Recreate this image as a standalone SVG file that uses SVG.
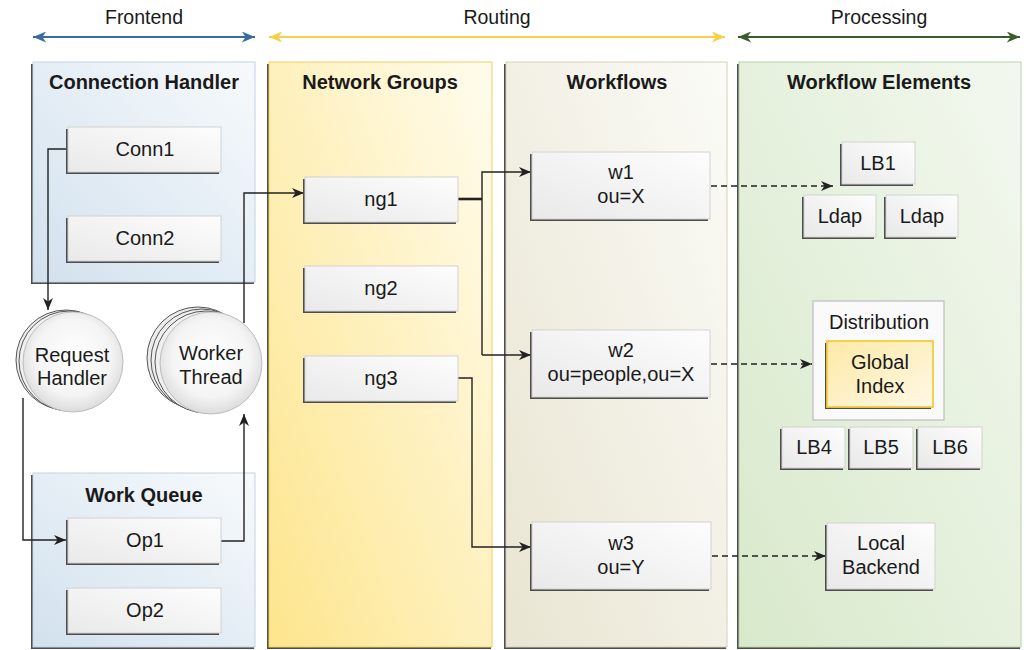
<svg xmlns="http://www.w3.org/2000/svg" width="1026" height="650" viewBox="0 0 1026 650">
<defs>
<linearGradient id="gBlue" x1="0" y1="1" x2="1" y2="0"><stop offset="0" stop-color="#d2e1ee"/><stop offset="1" stop-color="#f7fafc"/></linearGradient>
<linearGradient id="gYel" x1="0" y1="1" x2="1" y2="0"><stop offset="0" stop-color="#fde58c"/><stop offset="1" stop-color="#fffcee"/></linearGradient>
<linearGradient id="gBei" x1="0" y1="1" x2="1" y2="0"><stop offset="0" stop-color="#e9e5d2"/><stop offset="1" stop-color="#fbfbf7"/></linearGradient>
<linearGradient id="gGrn" x1="0" y1="1" x2="1" y2="0"><stop offset="0" stop-color="#d8e9cb"/><stop offset="1" stop-color="#f3f8ef"/></linearGradient>
<linearGradient id="gNode" x1="0" y1="1" x2="1" y2="0"><stop offset="0" stop-color="#e9e9e9"/><stop offset="1" stop-color="#fdfdfd"/></linearGradient>
<linearGradient id="gGI" x1="0" y1="0" x2="1" y2="1"><stop offset="0" stop-color="#fde9a6"/><stop offset="1" stop-color="#fff8e6"/></linearGradient>
<radialGradient id="gCirc" cx="0.5" cy="0.45" r="0.55"><stop offset="0" stop-color="#ffffff"/><stop offset="0.7" stop-color="#f4f4f4"/><stop offset="1" stop-color="#dcdcdc"/></radialGradient>
<marker id="ah" viewBox="0 0 12 10" refX="12" refY="5" markerWidth="12" markerHeight="10" markerUnits="userSpaceOnUse" orient="auto"><path d="M0,0 L12,5 L0,10 L3.5,5 z" fill="#222"/></marker>
<marker id="mB" viewBox="0 0 12 10" refX="12" refY="5" markerWidth="14" markerHeight="11" markerUnits="userSpaceOnUse" orient="auto-start-reverse"><path d="M0,0 L12,5 L0,10 L3.5,5 z" fill="#3a6c9f"/></marker>
<marker id="mY" viewBox="0 0 12 10" refX="12" refY="5" markerWidth="14" markerHeight="11" markerUnits="userSpaceOnUse" orient="auto-start-reverse"><path d="M0,0 L12,5 L0,10 L3.5,5 z" fill="#f6d04a"/></marker>
<marker id="mG" viewBox="0 0 12 10" refX="12" refY="5" markerWidth="14" markerHeight="11" markerUnits="userSpaceOnUse" orient="auto-start-reverse"><path d="M0,0 L12,5 L0,10 L3.5,5 z" fill="#3a5c2a"/></marker>
</defs>
<style>
text{font-family:"Liberation Sans",Arial,sans-serif;fill:#1a1a1a;text-anchor:middle}
.lbl{font-size:19.5px}
.ttl{font-size:20px;font-weight:bold}
.t{font-size:20px}
.sh{fill:#4d4d4d}
.node{fill:url(#gNode);stroke:#d2d2d2;stroke-width:1}
.c{fill:none;stroke:#222;stroke-width:1.4}
.d{fill:none;stroke:#222;stroke-width:1.4;stroke-dasharray:6,4}
</style>
<rect width="1026" height="650" fill="#ffffff"/>

<g id="stages">
<text class="lbl" x="144" y="24">Frontend</text>
<text class="lbl" x="497" y="24">Routing</text>
<text class="lbl" x="879" y="24">Processing</text>
<line x1="33" y1="37" x2="255" y2="37" stroke="#3a6c9f" stroke-width="2" marker-start="url(#mB)" marker-end="url(#mB)"/>
<line x1="269" y1="37" x2="725" y2="37" stroke="#f6d04a" stroke-width="2" marker-start="url(#mY)" marker-end="url(#mY)"/>
<line x1="738" y1="37" x2="1020" y2="37" stroke="#3a5c2a" stroke-width="2" marker-start="url(#mG)" marker-end="url(#mG)"/>
</g>

<g id="panel-connection-handler">
<rect class="sh" x="31" y="64" width="223" height="220"/>
<rect x="33" y="62" width="222" height="220" fill="url(#gBlue)" stroke="#c3d3e1"/>
<text class="ttl" x="144" y="89">Connection Handler</text>
</g>
<g id="panel-work-queue">
<rect class="sh" x="31" y="475" width="223" height="174"/>
<rect x="33" y="473" width="222" height="174" fill="url(#gBlue)" stroke="#c3d3e1"/>
<text class="ttl" x="144" y="502">Work Queue</text>
</g>
<g id="panel-network-groups">
<rect class="sh" x="267" y="64" width="224" height="585"/>
<rect x="269" y="62" width="223" height="585" fill="url(#gYel)" stroke="#f1cf5c"/>
<text class="ttl" x="380" y="89">Network Groups</text>
</g>
<g id="panel-workflows">
<rect class="sh" x="504" y="64" width="222" height="585"/>
<rect x="506" y="62" width="221" height="585" fill="url(#gBei)" stroke="#d6d1b9"/>
<text class="ttl" x="617" y="89">Workflows</text>
</g>
<g id="panel-workflow-elements">
<rect class="sh" x="737" y="64" width="283" height="585"/>
<rect x="739" y="62" width="282" height="585" fill="url(#gGrn)" stroke="#b7d4a6"/>
<text class="ttl" x="879" y="89">Workflow Elements</text>
</g>

<g id="connectors">
<polyline class="c" points="68,149 48,149 48,310" marker-end="url(#ah)"/>
<polyline class="c" points="23,398 23,540 66,540" marker-end="url(#ah)"/>
<polyline class="c" points="221,541 244,541 244,414" marker-end="url(#ah)"/>
<polyline class="c" points="244,323 244,193 304,193" marker-end="url(#ah)"/>
<line x1="458" y1="199" x2="482" y2="199" stroke="#222" stroke-width="2.6"/>
<polyline class="c" points="482,355 482,172 531,172" marker-end="url(#ah)"/>
<polyline class="c" points="482,355 531,355" marker-end="url(#ah)"/>
<polyline class="c" points="458,378 472,378 472,547 531,547" marker-end="url(#ah)"/>
<line class="d" x1="711" y1="186" x2="833" y2="186" marker-end="url(#ah)"/>
<line class="d" x1="711" y1="364" x2="812" y2="364" marker-end="url(#ah)"/>
<line class="d" x1="712" y1="556" x2="826" y2="556" marker-end="url(#ah)"/>
</g>

<g id="conn1"><rect class="sh" x="66" y="129" width="153" height="45"/><rect class="node" x="68" y="127" width="153" height="45"/><text class="t" x="145" y="156">Conn1</text></g>
<g id="conn2"><rect class="sh" x="66" y="218" width="153" height="45"/><rect class="node" x="68" y="216" width="153" height="45"/><text class="t" x="145" y="245">Conn2</text></g>

<g id="request-handler">
<circle cx="66" cy="360" r="50" fill="#ececec" stroke="#555" stroke-width="1"/>
<circle cx="69" cy="361" r="50" fill="#f0f0f0" stroke="#555" stroke-width="1"/>
<circle cx="73" cy="362" r="50" fill="url(#gCirc)" stroke="#bdbdbd" stroke-width="1"/>
<text class="t" x="72" y="362">Request</text>
<text class="t" x="72" y="385">Handler</text>
</g>
<g id="worker-thread">
<circle cx="198" cy="358" r="51" fill="#ececec" stroke="#555" stroke-width="1"/>
<circle cx="202" cy="360" r="51" fill="#eeeeee" stroke="#555" stroke-width="1"/>
<circle cx="206" cy="362" r="51" fill="#f0f0f0" stroke="#555" stroke-width="1"/>
<circle cx="211" cy="363" r="51" fill="url(#gCirc)" stroke="#bdbdbd" stroke-width="1"/>
<text class="t" x="211" y="360">Worker</text>
<text class="t" x="211" y="384">Thread</text>
</g>

<g id="op1"><rect class="sh" x="66" y="520" width="153" height="45"/><rect class="node" x="68" y="518" width="153" height="45"/><text class="t" x="145" y="547">Op1</text></g>
<g id="op2"><rect class="sh" x="66" y="590" width="153" height="45"/><rect class="node" x="68" y="588" width="153" height="45"/><text class="t" x="145" y="617">Op2</text></g>

<g id="ng1"><rect class="sh" x="303" y="179" width="153" height="45"/><rect class="node" x="305" y="177" width="153" height="45"/><text class="t" x="381" y="206">ng1</text></g>
<g id="ng2"><rect class="sh" x="303" y="268" width="153" height="45"/><rect class="node" x="305" y="266" width="153" height="45"/><text class="t" x="381" y="295">ng2</text></g>
<g id="ng3"><rect class="sh" x="303" y="358" width="153" height="45"/><rect class="node" x="305" y="356" width="153" height="45"/><text class="t" x="381" y="385">ng3</text></g>

<g id="w1"><rect class="sh" x="530" y="154" width="178" height="67"/><rect class="node" x="532" y="152" width="178" height="67"/><text class="t" x="621" y="179">w1</text><text class="t" x="621" y="203">ou=X</text></g>
<g id="w2"><rect class="sh" x="530" y="332" width="178" height="67"/><rect class="node" x="532" y="330" width="178" height="67"/><text class="t" x="621" y="357">w2</text><text class="t" x="621" y="381">ou=people,ou=X</text></g>
<g id="w3"><rect class="sh" x="530" y="524" width="179" height="67"/><rect class="node" x="532" y="522" width="179" height="67"/><text class="t" x="621" y="550">w3</text><text class="t" x="621" y="574">ou=Y</text></g>

<g id="lb1"><rect class="sh" x="840" y="144" width="73" height="42"/><rect class="node" x="842" y="142" width="73" height="42"/><text class="t" x="878" y="170">LB1</text></g>
<g id="ldap1"><rect class="sh" x="802" y="197" width="72" height="42"/><rect class="node" x="804" y="195" width="72" height="42"/><text class="t" x="840" y="223">Ldap</text></g>
<g id="ldap2"><rect class="sh" x="884" y="197" width="72" height="42"/><rect class="node" x="886" y="195" width="72" height="42"/><text class="t" x="922" y="223">Ldap</text></g>

<g id="distribution">
<rect x="813" y="301" width="131" height="119" fill="#fafafa" stroke="#bcbcbc" stroke-width="1.2"/>
<text class="t" x="879" y="329">Distribution</text>
<g id="global-index">
<rect class="sh" x="825" y="343" width="106" height="66"/>
<rect x="827" y="341" width="106" height="66" fill="url(#gGI)" stroke="#f4cd3f" stroke-width="1.8"/>
<text class="t" x="880" y="369">Global</text>
<text class="t" x="880" y="393">Index</text>
</g>
</g>

<g id="lb4"><rect class="sh" x="780" y="429" width="63" height="41"/><rect class="node" x="782" y="427" width="63" height="41"/><text class="t" x="814" y="454">LB4</text></g>
<g id="lb5"><rect class="sh" x="848" y="429" width="63" height="41"/><rect class="node" x="850" y="427" width="63" height="41"/><text class="t" x="881" y="454">LB5</text></g>
<g id="lb6"><rect class="sh" x="916" y="429" width="64" height="41"/><rect class="node" x="918" y="427" width="64" height="41"/><text class="t" x="950" y="454">LB6</text></g>

<g id="local-backend"><rect class="sh" x="825" y="525" width="108" height="66"/><rect class="node" x="827" y="523" width="108" height="66"/><text class="t" x="881" y="550">Local</text><text class="t" x="881" y="574">Backend</text></g>
</svg>
